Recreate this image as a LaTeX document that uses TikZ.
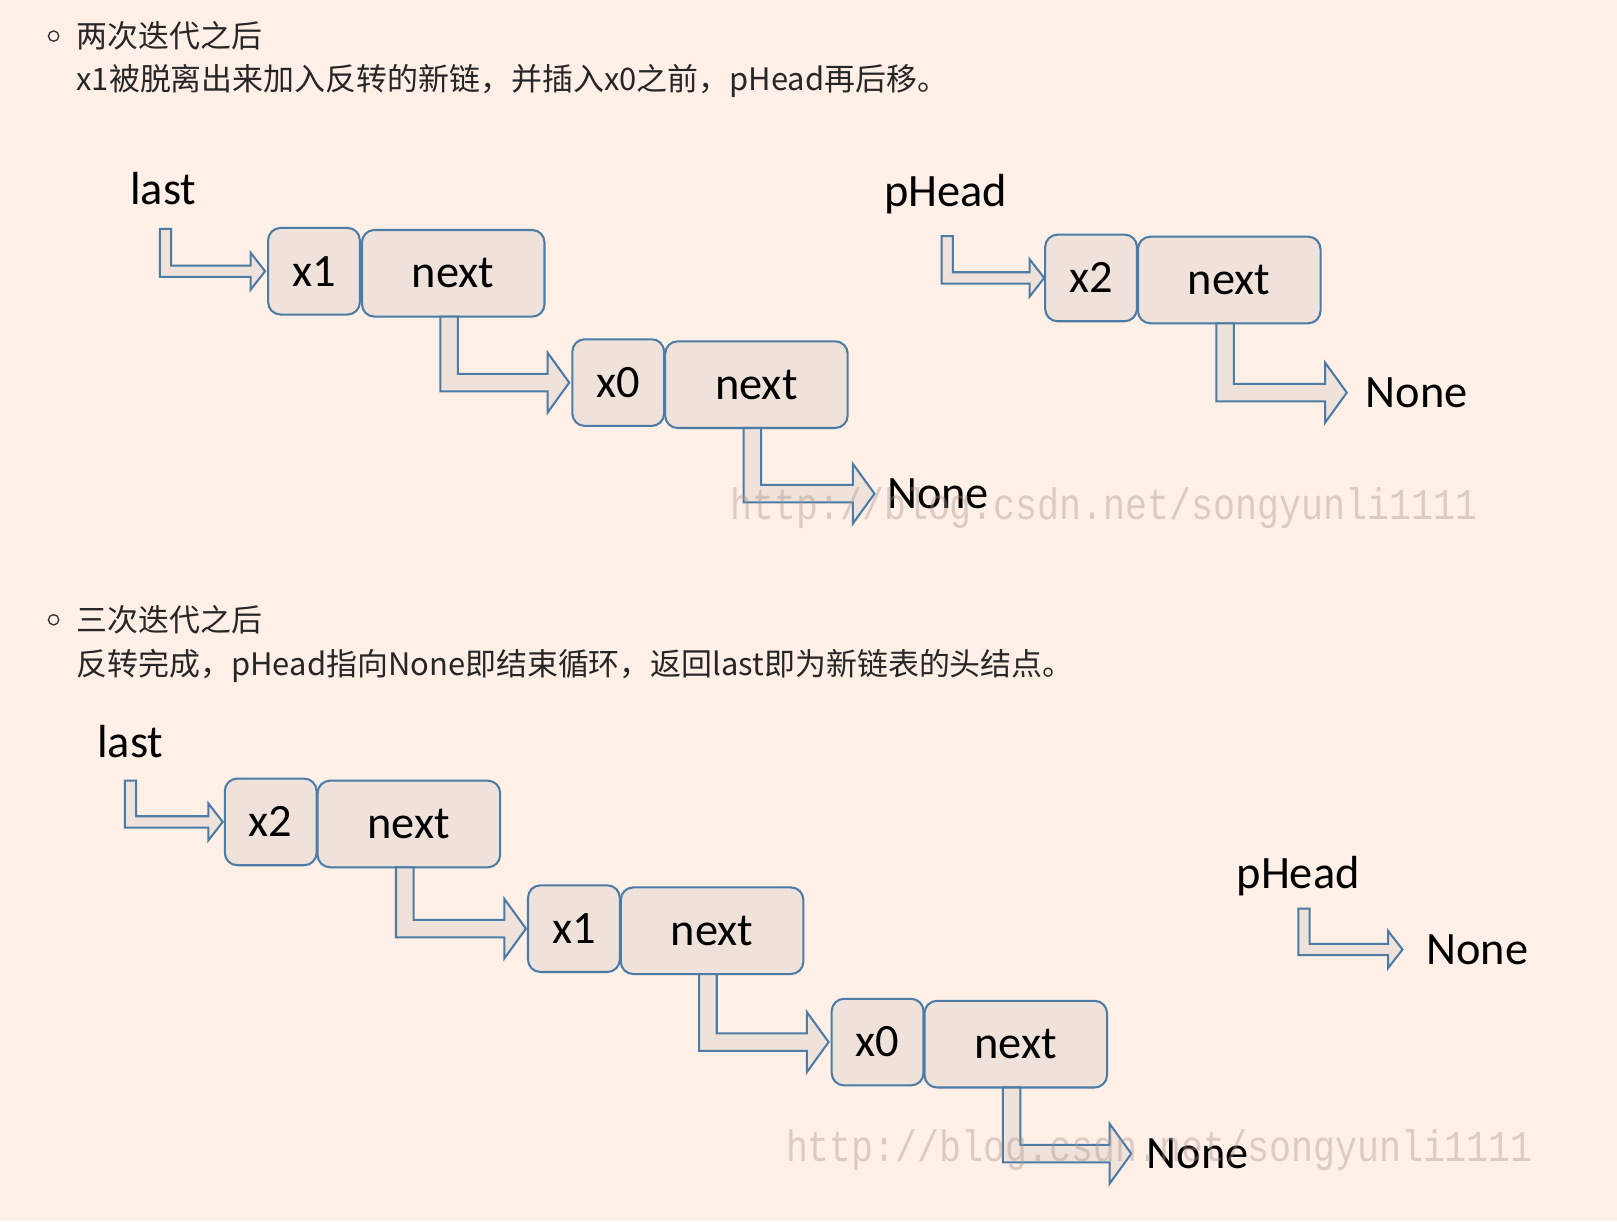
\documentclass[tikz,border=0pt]{standalone}
\usepackage{fontspec}
\setmainfont{Carlito}
\newfontfamily\cjk{Noto Sans CJK SC}
\newfontfamily\wmfont{Liberation Mono}
\usetikzlibrary{calc,positioning}
\definecolor{bgpeach}{RGB}{254,239,231}
\definecolor{boxfill}{RGB}{238,226,218}
\definecolor{boxline}{RGB}{76,124,166}
\definecolor{wmgray}{RGB}{170,150,140}
% bent block arrow: start of stem, tip, stem width, half head, head length
\newcommand\bentarrow[5]{%
  \draw[arrowbody] let \p1=(#1), \p2=(#2) in
    (\x1,\y1) -- (\x1,\y2-#3/2) -- (\x2-#5,\y2-#3/2) -- (\x2-#5,\y2-#4)
    -- (\x2,\y2) -- (\x2-#5,\y2+#4) -- (\x2-#5,\y2+#3/2) -- (\x1+#3,\y2+#3/2)
    -- (\x1+#3,\y1) -- cycle;}
\begin{document}
\begin{tikzpicture}[x=1pt,y=-1pt,
  databox/.style={draw=boxline,fill=boxfill,line width=2pt,rounded corners=12pt,minimum width=89pt,minimum height=84pt,inner sep=0pt,outer sep=0pt,font=\fontsize{45}{50}\selectfont},
  nextbox/.style={databox,minimum width=177pt},
  varname/.style={anchor=base west,inner sep=0pt,font=\fontsize{45}{50}\selectfont},
  arrowbody/.style={draw=boxline,fill=boxfill,line width=2pt,line join=miter},
  headline/.style={anchor=west,inner sep=0pt,text=black!85,font=\cjk\fontsize{30}{36}\selectfont},
  ring/.style={draw=black!80,line width=1.3pt},
  watermark/.style={anchor=west,inner sep=0pt,text=wmgray,opacity=0.4,yscale=1.2,transform shape,font=\wmfont\fontsize{35.5}{40}\selectfont}]
\fill[bgpeach] (0,0) rectangle (1568,1184);
\useasboundingbox (0,0) rectangle (1568,1184);
% after two iterations
\draw[ring] (52,35) circle (5pt);
\node[headline] (h1) at (74,35) {两次迭代之后};
\node[headline] (h2) at (74,78) {x1被脱离出来加入反转的新链，并插入x0之前，pHead再后移。};
\node[databox] (a1) at (304.5,263) {x1};
\node[nextbox,right=2pt of a1,yshift=-2pt] (n1) {next};
\node[databox] (a0) at (599.5,371) {x0};
\node[nextbox,right=1pt of a0,yshift=-2pt] (n0) {next};
\node[databox] (a2) at (1058,269.5) {x2};
\node[nextbox,right=1pt of a2,yshift=-2pt] (n2) {next};
\node[varname] (last1) at (126,198) {last};
\node[varname] (head1) at (857,200) {pHead};
\node[varname] (none1) at (860,493) {None};
\node[varname] (none2) at (1324,395) {None};
\coordinate (s1) at (155,222);
\coordinate (s2) at (913,229);
\bentarrow{s1}{$(a1.west)+(-3,0)$}{11pt}{18pt}{14pt}
\bentarrow{$(n1.south west)+(76,0)$}{$(a0.west)+(-3,0)$}{17pt}{29pt}{21pt}
\bentarrow{$(n0.south west)+(76,0)$}{$(none1.west)+(-12,0)$}{17pt}{29pt}{21pt}
\bentarrow{s2}{$(a2.west)+(-1,0)$}{11pt}{18pt}{14pt}
\bentarrow{$(n2.south west)+(76,0)$}{$(none2.west)+(-18,0)$}{17pt}{29pt}{21pt}
\node[watermark] (wm1) at (708,493) {http://blog.csdn.net/songyunli1111};
% after three iterations
\draw[ring] (52,601) circle (5pt);
\node[headline] (h3) at (74,601) {三次迭代之后};
\node[headline] (h4) at (74,646) {反转完成，pHead指向None即结束循环，返回last即为新链表的头结点。};
\node[databox] (b2) at (262.5,797) {x2};
\node[nextbox,right=1pt of b2,yshift=-2pt] (m2) {next};
\node[databox] (b1) at (556.5,900.5) {x1};
\node[nextbox,right=1pt of b1,yshift=-2pt] (m1) {next};
\node[databox] (b0) at (851,1010.5) {x0};
\node[nextbox,right=1pt of b0,yshift=-2pt] (m0) {next};
\node[varname] (last2) at (94,735) {last};
\node[varname] (head2) at (1199,862) {pHead};
\node[varname] (none3) at (1112,1133) {None};
\node[varname] (none4) at (1383,935) {None};
\coordinate (s3) at (121,757);
\coordinate (s4) at (1259,881);
\bentarrow{s3}{$(b2.west)+(-2,0)$}{11pt}{18pt}{14pt}
\bentarrow{$(m2.south west)+(76,0)$}{$(b1.west)+(-2,0)$}{17pt}{29pt}{21pt}
\bentarrow{$(m1.south west)+(76,0)$}{$(b0.west)+(-3,0)$}{17pt}{29pt}{21pt}
\bentarrow{$(m0.south west)+(76,0)$}{$(none3.west)+(-15,0)$}{17pt}{29pt}{21pt}
\bentarrow{s4}{$(none4.west)+(-23,0)$}{11pt}{18pt}{14pt}
\node[watermark] (wm2) at (762,1115) {http://blog.csdn.net/songyunli1111};
\end{tikzpicture}
\end{document}
